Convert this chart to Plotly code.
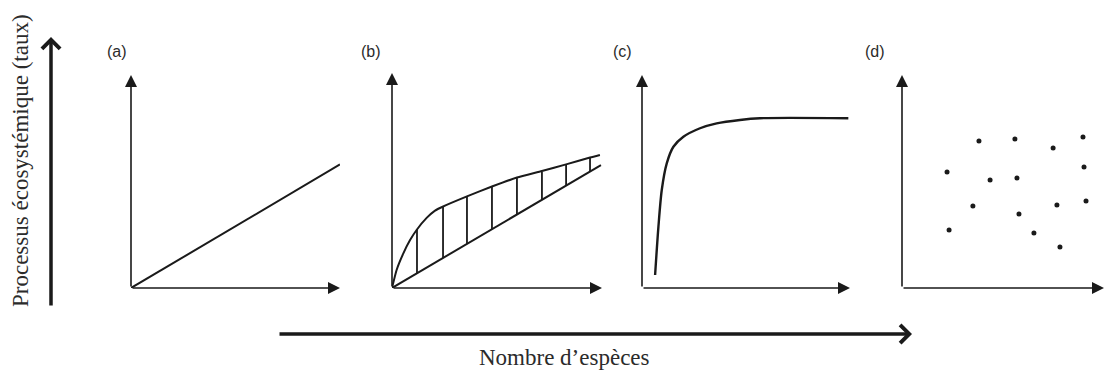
import plotly.graph_objects as go

W, H = 1107, 370

# Panel (a): straight proportional response
a_x = [0, 10]
a_y = [0, 5.8]

# Panel (b): upper concave envelope, lower straight bound, hatching between them
b_upper_x = [0, 0.22, 0.54, 0.86, 1.18, 1.65, 2.05, 2.41, 3.57, 4.76, 5.95, 7.14, 8.29, 9.43, 9.9]
b_upper_y = [0, 0.84, 1.61, 2.23, 2.71, 3.26, 3.60, 3.78, 4.26, 4.72, 5.14, 5.44, 5.75, 6.07, 6.19]
b_lower_x = [0, 9.95]
b_lower_y = [0, 5.72]
b_hatch_x = [1.19, 2.43, 3.57, 4.76, 5.95, 7.14, 8.29, 9.43]
b_hatch_top = [2.70, 3.77, 4.23, 4.70, 5.12, 5.40, 5.72, 6.05]
b_hatch_bottom = [0.68, 1.40, 2.05, 2.74, 3.42, 4.11, 4.77, 5.42]

# Panel (c): rapid saturation
c_x = [0.63, 0.79, 0.95, 1.19, 1.51, 1.99, 2.79, 3.59, 4.71, 5.67, 9.92]
c_y = [0.61, 2.88, 4.60, 5.85, 6.63, 7.10, 7.50, 7.73, 7.89, 7.97, 7.97]

# Panel (d): no relationship, scattered observations
d_x = [2.23, 3.81, 5.59, 7.48, 8.96, 9.01, 4.36, 5.69, 3.51, 5.79, 7.67, 9.11, 2.33, 6.53, 7.82]
d_y = [5.45, 6.90, 7.00, 6.57, 7.09, 5.68, 5.07, 5.16, 3.85, 3.47, 3.90, 4.08, 2.72, 2.58, 1.92]

panel_labels = ["(a)", "(b)", "(c)", "(d)"]
y_title = "Processus écosystémique (taux)"
x_title = "Nombre d\u2019espèces"

INK = "#1a1a1a"
TEXT = "#2b2b2b"

# pixel frame of each small panel: origin x, origin y, x-arrow tip, y-arrow tip
frames = [
    (131, 288, 340, 75),
    (392, 288, 602, 73),
    (642, 288, 850, 75),
    (902, 288, 1104, 75),
]
label_pos = [(117, 51), (371, 51), (622, 51), (875, 51)]

fig = go.Figure()

line_style = dict(color=INK, width=2)

def add(trace, i):
    n = "" if i == 0 else str(i + 1)
    trace.update(xaxis="x" + n, yaxis="y" + n, showlegend=False,
                 hoverinfo="skip", cliponaxis=False)
    fig.add_trace(trace)

add(go.Scatter(x=a_x, y=a_y, mode="lines", line=line_style), 0)

add(go.Scatter(x=b_upper_x, y=b_upper_y, mode="lines",
               line=dict(color=INK, width=2, shape="spline", smoothing=0.5)), 1)
add(go.Scatter(x=b_lower_x, y=b_lower_y, mode="lines", line=line_style), 1)
hx, hy = [], []
for xv, top, bot in zip(b_hatch_x, b_hatch_top, b_hatch_bottom):
    hx += [xv, xv, None]
    hy += [bot, top, None]
add(go.Scatter(x=hx, y=hy, mode="lines", line=dict(color=INK, width=1.8)), 1)

add(go.Scatter(x=c_x, y=c_y, mode="lines",
               line=dict(color=INK, width=2.4, shape="spline", smoothing=0.8)), 2)

add(go.Scatter(x=d_x, y=d_y, mode="markers",
               marker=dict(color=INK, size=5)), 3)

layout = dict(
    width=W, height=H,
    margin=dict(l=0, r=0, t=0, b=0),
    paper_bgcolor="white", plot_bgcolor="white",
    showlegend=False,
)

hidden = dict(visible=False, showgrid=False, zeroline=False, fixedrange=True)
annotations = []
for i, (ox, oy, xt, yt) in enumerate(frames):
    n = "" if i == 0 else str(i + 1)
    layout["xaxis" + n] = dict(hidden, domain=[ox / W, xt / W], range=[0, 10],
                               anchor="y" + n)
    layout["yaxis" + n] = dict(hidden, domain=[1 - oy / H, 1 - yt / H], range=[0, 10],
                               anchor="x" + n)
    # panel axes drawn as arrows
    for (x, y) in [(10, 0), (0, 10)]:
        annotations.append(dict(
            x=x, y=y, ax=0, ay=0, xref="x" + n, yref="y" + n,
            axref="x" + n, ayref="y" + n, text="", showarrow=True,
            arrowhead=2, arrowsize=1.5, arrowwidth=1.6, arrowcolor=INK,
            standoff=0, startstandoff=0,
        ))
    lx, ly = label_pos[i]
    annotations.append(dict(
        x=lx / W, y=1 - ly / H, xref="paper", yref="paper", text=panel_labels[i],
        showarrow=False, xanchor="center", yanchor="middle",
        font=dict(family="Liberation Sans, Arial, sans-serif", size=16, color=TEXT),
    ))

# overall response arrow (vertical) and diversity arrow (horizontal)
annotations.append(dict(
    x=51 / W, y=1 - 37 / H, xref="paper", yref="paper", ax=0, ay=270,
    axref="pixel", ayref="pixel", text="", showarrow=True, arrowhead=4,
    arrowsize=1.0, arrowwidth=3.5, arrowcolor=INK, standoff=0,
))
annotations.append(dict(
    x=912 / W, y=1 - 334 / H, xref="paper", yref="paper", ax=-634, ay=0,
    axref="pixel", ayref="pixel", text="", showarrow=True, arrowhead=4,
    arrowsize=1.0, arrowwidth=3.5, arrowcolor=INK, standoff=0,
))
annotations.append(dict(
    x=20 / W, y=1 - 161 / H, xref="paper", yref="paper", text=y_title,
    showarrow=False, textangle=-90, xanchor="center", yanchor="middle",
    font=dict(family="Liberation Serif, serif", size=23, color=TEXT),
))
annotations.append(dict(
    x=564 / W, y=1 - 357 / H, xref="paper", yref="paper", text=x_title,
    showarrow=False, xanchor="center", yanchor="middle",
    font=dict(family="Liberation Serif, serif", size=23, color=TEXT),
))
layout["annotations"] = annotations

fig.update_layout(**layout)
fig.write_html("out.html", config={"displayModeBar": False})
